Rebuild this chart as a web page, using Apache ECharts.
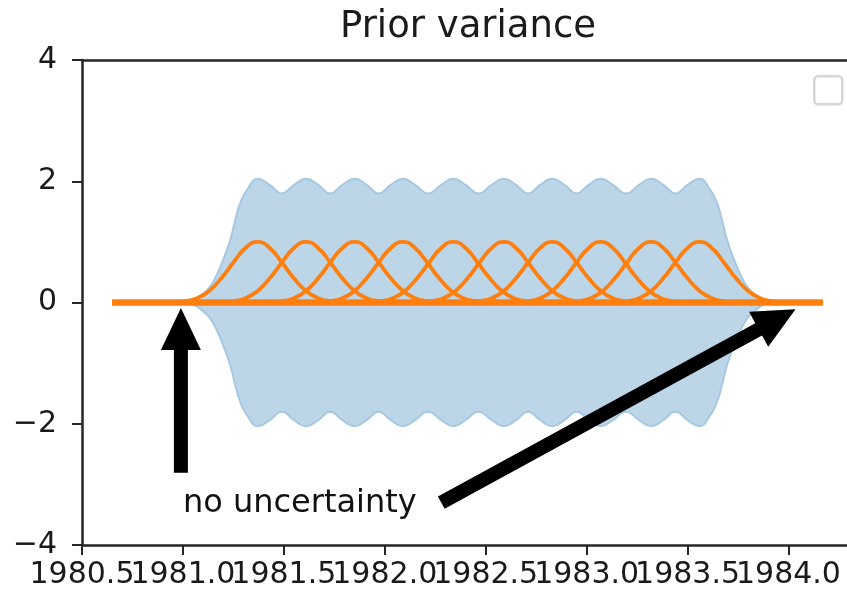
<!DOCTYPE html>
<html>
<head>
<meta charset="utf-8">
<script src="https://cdn.jsdelivr.net/npm/echarts@6/dist/echarts.min.js"></script>
<style>
  html, body { margin: 0; padding: 0; background: #fff; }
  #chart { width: 847px; height: 596px; }
</style>
</head>
<body>
<div id="chart"></div>
<script>
// Radial basis functions: centre of each bump (years)
const centres = [1981.37, 1981.61, 1981.85, 1982.09, 1982.34, 1982.59, 1982.83, 1983.07, 1983.32, 1983.56];
// Shape of one bump: offset from its centre (years) and height
const bumpOffsets = [-0.42, -0.36, -0.30, -0.24, -0.18, -0.12, -0.06, 0, 0.06, 0.12, 0.18, 0.24, 0.30, 0.36, 0.42];
const bumpHeights = [0.0, 0.02, 0.07, 0.19, 0.40, 0.66, 0.90, 1.0, 0.90, 0.66, 0.40, 0.19, 0.07, 0.02, 0.0];
// Time span covered by the data
const xRange = [1980.65, 1984.17];
// Prior mean
const meanY = [0, 0];

// Upper edge of the mean ± 2 std band
const bandX = [1980.65, 1981.00, 1981.06, 1981.09, 1981.13, 1981.165, 1981.20, 1981.235, 1981.26, 1981.285, 1981.32, 1981.37,
  1981.43, 1981.49, 1981.55, 1981.61,
  1981.67, 1981.73, 1981.79, 1981.85,
  1981.91, 1981.97, 1982.03, 1982.09,
  1982.15, 1982.215, 1982.28, 1982.34,
  1982.40, 1982.465, 1982.53, 1982.59,
  1982.65, 1982.71, 1982.77, 1982.83,
  1982.89, 1982.95, 1983.01, 1983.07,
  1983.13, 1983.195, 1983.26, 1983.32,
  1983.38, 1983.44, 1983.50, 1983.56,
  1983.61, 1983.645, 1983.67, 1983.695, 1983.73, 1983.765, 1983.80, 1983.84, 1983.87, 1983.92, 1984.17];
const bandUpper = [0, 0.01, 0.05, 0.12, 0.24, 0.44, 0.71, 1.04, 1.37, 1.65, 1.87, 2.04,
  1.94, 1.80, 1.94, 2.04,
  1.94, 1.80, 1.94, 2.04,
  1.94, 1.80, 1.94, 2.04,
  1.94, 1.80, 1.94, 2.04,
  1.94, 1.80, 1.94, 2.04,
  1.94, 1.80, 1.94, 2.04,
  1.94, 1.80, 1.94, 2.04,
  1.94, 1.80, 1.94, 2.04,
  1.94, 1.80, 1.94, 2.04,
  1.87, 1.65, 1.37, 1.04, 0.71, 0.44, 0.24, 0.12, 0.05, 0.01, 0];

// Axis ticks and visible x extent
const xTicks = [1980.5, 1981.0, 1981.5, 1982.0, 1982.5, 1983.0, 1983.5, 1984.0];
const xTickLabels = ['1980.5', '1981.0', '1981.5', '1982.0', '1982.5', '1983.0', '1983.5', '1984.0'];
const xExtent = [1980.5, 1984.29];
const yTicks = [-4, -2, 0, 2, 4];

// Annotation: text anchor and the two arrows (tail -> tip)
const noteText = 'no uncertainty';
const notePos = [1981.0, -3.5];
const arrowTails = [[1980.99, -2.81], [1982.28, -3.30]];
const arrowTips = [[1980.99, -0.09], [1984.035, -0.11]];

const FONT = 'DejaVu Sans';
const ORANGE = '#ff7f0e';
const INK = '#1a1a1a';
const SPINE = '#262626';

const chart = echarts.init(document.getElementById('chart'), null, { renderer: 'canvas' });

const bandUpperData = bandX.map((x, i) => [x, meanY[0] + bandUpper[i]]);
const bandLowerData = bandX.map((x, i) => [x, meanY[0] - bandUpper[i]]);

const bandStyle = {
  type: 'line',
  smooth: 0.5,
  symbol: 'none',
  silent: true,
  z: 1,
  lineStyle: { color: '#a6c8e2', width: 2 },
  areaStyle: { color: '#bcd6e8', opacity: 1, origin: 0 }
};

const bumpSeries = centres.map((c, k) => ({
  name: 'basis ' + (k + 1),
  type: 'line',
  smooth: 0.5,
  symbol: 'none',
  silent: true,
  z: 3,
  lineStyle: { color: ORANGE, width: 3.8 },
  data: [[xRange[0], 0]]
    .concat(bumpOffsets.map((o, i) => [c + o, bumpHeights[i]]))
    .concat([[xRange[1], 0]])
}));

const spine = { show: true, onZero: false, lineStyle: { color: SPINE, width: 2.5 } };

const option = {
  animation: false,
  backgroundColor: '#ffffff',
  title: {
    text: 'Prior variance',
    left: 335,
    top: 4,
    textStyle: { fontFamily: FONT, fontSize: 37, fontWeight: 'normal', color: INK }
  },
  grid: { left: 82, top: 60, right: 0, height: 485, show: false },
  xAxis: [{
    type: 'value',
    position: 'bottom',
    min: xExtent[0],
    max: xExtent[1],
    interval: 0.5,
    axisLine: spine,
    axisTick: { show: true, length: 10, customValues: xTicks, lineStyle: { color: SPINE, width: 2 } },
    splitLine: { show: false },
    // tick labels overlap each other, so they are drawn by the 'xlabels' series below
    axisLabel: { show: false }
  }, {
    type: 'value',
    position: 'top',
    min: xExtent[0],
    max: xExtent[1],
    axisLine: spine,
    axisTick: { show: false },
    axisLabel: { show: false },
    splitLine: { show: false }
  }],
  yAxis: {
    type: 'value',
    min: yTicks[0],
    max: yTicks[yTicks.length - 1],
    interval: 2,
    axisLine: spine,
    axisTick: { show: true, length: 10, lineStyle: { color: SPINE, width: 2 } },
    splitLine: { show: false },
    axisLabel: {
      fontFamily: FONT, fontSize: 30, color: INK, margin: 25,
      showMinLabel: true, showMaxLabel: true,
      formatter: v => (v < 0 ? '\u2212' + Math.abs(v) : String(v))
    }
  },
  graphic: [{
    type: 'rect',
    left: 813, top: 75,
    shape: { width: 28, height: 28, r: 4 },
    style: { fill: '#ffffff', stroke: '#d6d6d6', lineWidth: 2.5 },
    z: 10
  }],
  series: [
    Object.assign({ name: 'upper', data: bandUpperData }, bandStyle),
    Object.assign({ name: 'lower', data: bandLowerData }, bandStyle),
    {
      name: 'mean',
      type: 'line',
      symbol: 'none',
      silent: true,
      z: 2,
      lineStyle: { color: ORANGE, width: 6.5 },
      data: xRange.map((x, i) => [x, meanY[i]])
    },
    ...bumpSeries,
    {
      name: 'arrows',
      type: 'custom',
      z: 6,
      silent: true,
      data: arrowTails.map((t, i) => [t[0], t[1], arrowTips[i][0], arrowTips[i][1]]),
      encode: { x: [0, 2], y: [1, 3] },
      renderItem: (params, api) => {
        const p0 = api.coord([api.value(0), api.value(1)]);
        const p1 = api.coord([api.value(2), api.value(3)]);
        const dx = p1[0] - p0[0], dy = p1[1] - p0[1];
        const len = Math.sqrt(dx * dx + dy * dy);
        const ux = dx / len, uy = dy / len;
        const nx = -uy, ny = ux;
        const headLen = 42, headHalf = 20, shaftHalf = 7;
        const bx = p1[0] - ux * headLen, by = p1[1] - uy * headLen;
        const pts = [
          [p0[0] + nx * shaftHalf, p0[1] + ny * shaftHalf],
          [bx + nx * shaftHalf, by + ny * shaftHalf],
          [bx + nx * headHalf, by + ny * headHalf],
          [p1[0], p1[1]],
          [bx - nx * headHalf, by - ny * headHalf],
          [bx - nx * shaftHalf, by - ny * shaftHalf],
          [p0[0] - nx * shaftHalf, p0[1] - ny * shaftHalf]
        ];
        return { type: 'polygon', shape: { points: pts }, style: { fill: '#000000' } };
      }
    },
    {
      name: 'note',
      type: 'custom',
      z: 7,
      silent: true,
      data: [notePos],
      renderItem: (params, api) => {
        const p = api.coord([api.value(0), api.value(1)]);
        return {
          type: 'text',
          x: p[0], y: p[1] - 11,
          style: {
            text: noteText, fontFamily: FONT, fontSize: 32, fill: '#111111',
            align: 'left', verticalAlign: 'middle'
          }
        };
      }
    },
    {
      name: 'xlabels',
      type: 'custom',
      z: 7,
      silent: true,
      clip: false,
      data: xTicks.map(t => [t, yTicks[0]]),
      renderItem: (params, api) => {
        const p = api.coord([api.value(0), api.value(1)]);
        return {
          type: 'text',
          x: p[0], y: p[1] + 15,
          style: {
            text: xTickLabels[params.dataIndex], fontFamily: FONT, fontSize: 30, fill: INK,
            align: 'center', verticalAlign: 'top'
          }
        };
      }
    }
  ]
};

chart.setOption(option);
</script>
</body>
</html>
